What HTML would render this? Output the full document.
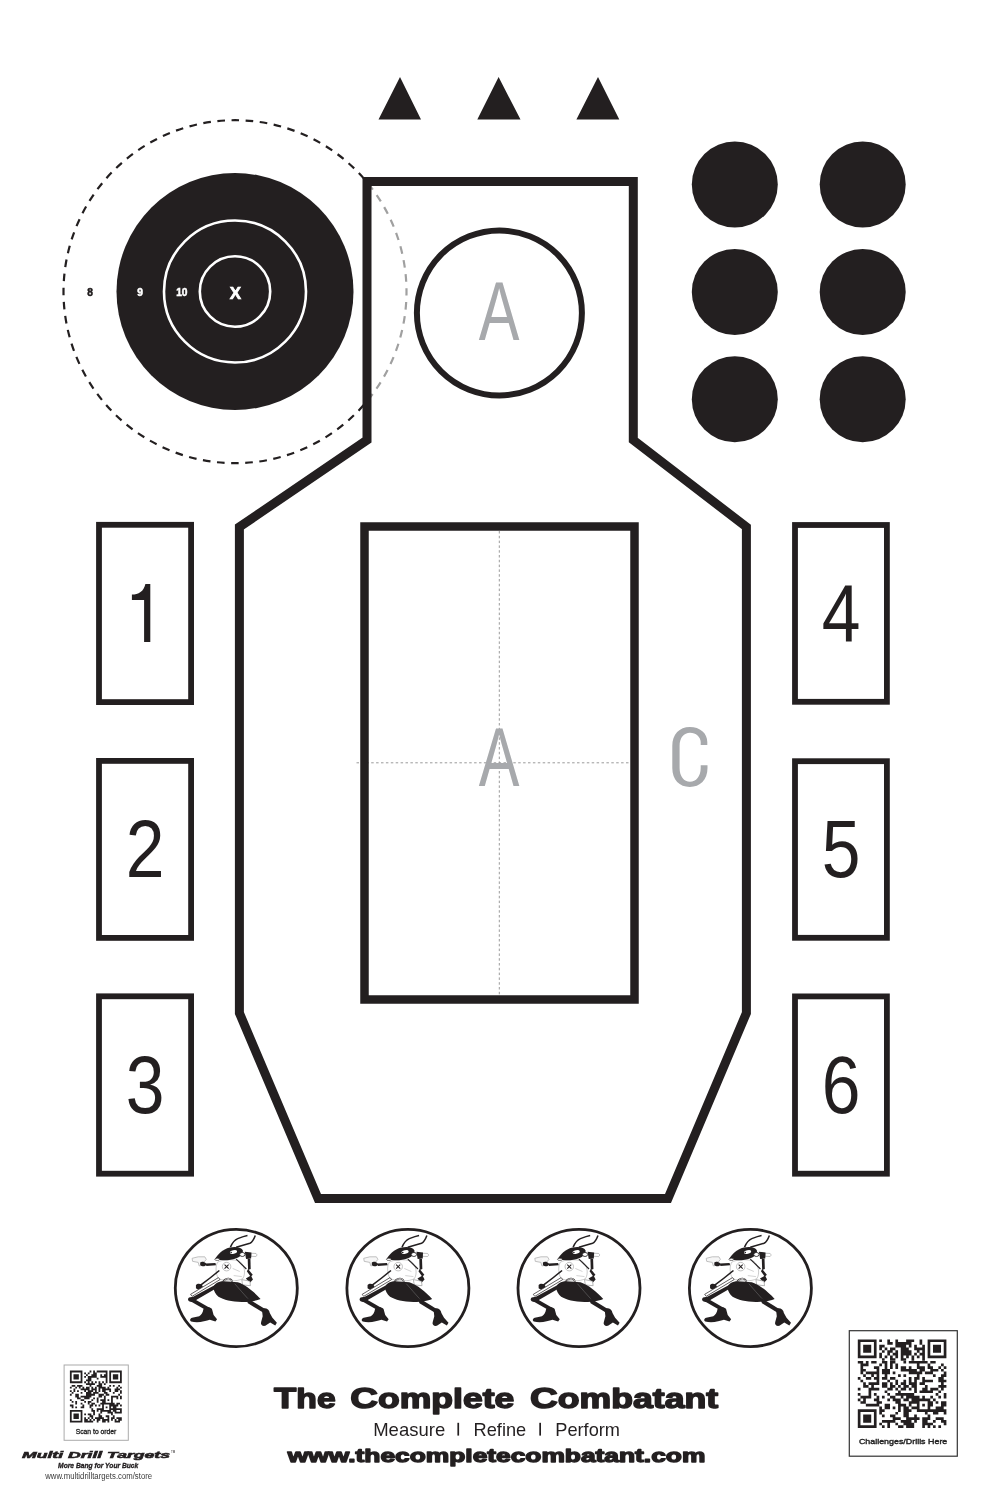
<!DOCTYPE html>
<html><head><meta charset="utf-8"><title>The Complete Combatant Target</title>
<style>
html,body{margin:0;padding:0;background:#fff;width:986px;height:1500px;overflow:hidden}
svg{display:block;font-family:"Liberation Sans",sans-serif;will-change:transform}
</style></head><body>
<svg width="986" height="1500" viewBox="0 0 986 1500">
<rect width="986" height="1500" fill="#fff"/>
<!-- triangles -->
<path d="M400 77 L421 119.6 L378.5 119.6 Z M498.6 77 L520.5 119.6 L477.3 119.6 Z M598 77 L619.3 119.6 L576.4 119.6 Z" fill="#231f20"/>
<!-- dashed circle (black outside) -->
<defs>
  <clipPath id="outside"><path d="M0 0 H986 V1500 H0 Z M367 181.5 L633.3 181.5 L633.3 440 L746.4 527 L746.4 1013 L668 1198.5 L318 1198.5 L239.4 1013 L239.4 527 L367 440 Z" clip-rule="evenodd"/></clipPath>
  <clipPath id="inside"><path d="M367 181.5 L633.3 181.5 L633.3 440 L746.4 527 L746.4 1013 L668 1198.5 L318 1198.5 L239.4 1013 L239.4 527 L367 440 Z"/></clipPath>
</defs>
<circle cx="235" cy="291.7" r="171.5" fill="none" stroke="#231f20" stroke-width="2.2" stroke-dasharray="7.6 6.578" stroke-dashoffset="3.8" clip-path="url(#outside)"/>
<circle cx="235" cy="291.7" r="171.5" fill="none" stroke="#a0a0a0" stroke-width="2.2" stroke-dasharray="7.6 6.578" stroke-dashoffset="3.8" clip-path="url(#inside)"/>
<!-- bullseye -->
<circle cx="235" cy="291.5" r="118.5" fill="#231f20"/>
<circle cx="235" cy="291.5" r="71" fill="none" stroke="#fff" stroke-width="2.6"/>
<circle cx="235" cy="291.5" r="35.2" fill="none" stroke="#fff" stroke-width="2.6"/>
<text x="235.3" y="298.6" text-anchor="middle" font-family="Liberation Sans" font-weight="bold" font-size="17" fill="#fff" stroke="#fff" stroke-width="0.7">X</text>
<text x="181.8" y="295.7" text-anchor="middle" font-family="Liberation Sans" font-weight="bold" font-size="10.2" fill="#fff" stroke="#fff" stroke-width="0.5">10</text>
<text x="140.1" y="295.7" text-anchor="middle" font-family="Liberation Sans" font-weight="bold" font-size="10.2" fill="#fff" stroke="#fff" stroke-width="0.5">9</text>
<text x="90.1" y="295.7" text-anchor="middle" font-family="Liberation Sans" font-weight="bold" font-size="10.2" fill="#231f20" stroke="#231f20" stroke-width="0.5">8</text>
<!-- body outline -->
<path d="M367 181.5 L633.3 181.5 L633.3 440 L746.4 527 L746.4 1013 L668 1198.5 L318 1198.5 L239.4 1013 L239.4 527 L367 440 Z" fill="none" stroke="#231f20" stroke-width="9" stroke-linejoin="miter" stroke-miterlimit="10"/>
<!-- head circle -->
<circle cx="499.4" cy="313" r="82.5" fill="none" stroke="#231f20" stroke-width="6"/>
<text x="0" y="0" transform="translate(499.20,339.70) scale(0.73,1)" text-anchor="middle" font-family="Liberation Sans" font-size="83.6" fill="#a7a9ac">A</text>
<!-- inner rect -->
<path d="M499.3 531 V995" stroke="#9a9a9a" stroke-width="1" stroke-dasharray="2.5 2.3"/>
<path d="M356.5 762.8 H630" stroke="#9a9a9a" stroke-width="1" stroke-dasharray="2.5 2.4"/>
<rect x="364.5" y="526.5" width="270" height="473" fill="none" stroke="#231f20" stroke-width="8.5"/>
<text x="0" y="0" transform="translate(499.20,785.60) scale(0.73,1)" text-anchor="middle" font-family="Liberation Sans" font-size="83.6" fill="#a7a9ac">A</text>
<path d="M707.3 744.9 V742 C707.3 733 700 726.9 689.8 726.9 C679.5 726.9 672.3 734 672.3 746 V768 C672.3 780 679.5 786.9 689.8 786.9 C700 786.9 707.5 780 707.5 768 V765.2 H700.7 V768 C700.7 776.5 696 781.8 690 781.8 C684 781.8 679.6 776.5 679.6 768 V746 C679.6 737.5 684 732.7 690 732.7 C696 732.7 700.7 737 700.7 742 V744.9 Z" fill="#a7a9ac"/>
<!-- dots -->
<g fill="#231f20">
<circle cx="734.8" cy="184.5" r="43"/><circle cx="862.7" cy="184.5" r="43"/>
<circle cx="734.8" cy="291.9" r="43"/><circle cx="862.7" cy="291.9" r="43"/>
<circle cx="734.8" cy="399.2" r="43"/><circle cx="862.7" cy="399.2" r="43"/>
</g>
<!-- number boxes -->
<g fill="none" stroke="#231f20" stroke-width="5.8">
<rect x="99" y="524.8" width="92.1" height="177.3"/>
<rect x="99" y="760.9" width="92.1" height="177"/>
<rect x="99" y="996.3" width="92.1" height="177.4"/>
<rect x="795" y="525" width="91.9" height="176.8"/>
<rect x="795" y="761.2" width="91.9" height="176.6"/>
<rect x="795" y="996.4" width="91.9" height="177.3"/>
</g>
<path d="M144.1 584 H150.3 V641.9 H144.1 V600 H131.9 V594.6 C138.5 594.6 143.8 591.5 145.4 584 Z" fill="#231f20"/>
<text x="0" y="0" transform="translate(145.00,877.40) scale(0.86,1)" text-anchor="middle" font-family="Liberation Sans" font-size="81" fill="#231f20">2</text>
<text x="0" y="0" transform="translate(145.00,1113.00) scale(0.86,1)" text-anchor="middle" font-family="Liberation Sans" font-size="81" fill="#231f20">3</text>
<text x="0" y="0" transform="translate(841.00,641.80) scale(0.86,1)" text-anchor="middle" font-family="Liberation Sans" font-size="81" fill="#231f20">4</text>
<text x="0" y="0" transform="translate(841.00,877.40) scale(0.86,1)" text-anchor="middle" font-family="Liberation Sans" font-size="81" fill="#231f20">5</text>
<text x="0" y="0" transform="translate(841.00,1113.00) scale(0.86,1)" text-anchor="middle" font-family="Liberation Sans" font-size="81" fill="#231f20">6</text>
<!-- ant circles -->
<g fill="#fff" stroke="#231f20" stroke-width="2.8">
<ellipse cx="236.3" cy="1288" rx="61" ry="58.6"/>
<ellipse cx="407.9" cy="1288" rx="61" ry="58.6"/>
<ellipse cx="579" cy="1288" rx="61" ry="58.6"/>
<ellipse cx="750.4" cy="1288" rx="61" ry="58.6"/>
</g>
<g transform="translate(185.00,1235) scale(0.10142)">
<g fill="#231f20" stroke="none">
  <path d="M448 120 C465 80 490 48 520 36 C560 20 590 10 616 5" fill="none" stroke="#231f20" stroke-width="15"/>
  <path d="M504 120 L640 82 C662 72 680 40 693 5" fill="none" stroke="#231f20" stroke-width="15"/>
  <path d="M320 270 C360 240 480 235 540 260 C590 300 600 380 570 430 C520 460 400 460 330 430 C300 380 300 310 320 270 Z" fill="#fff" stroke="#9a9a9a" stroke-width="5"/>
  <path d="M294 240 C320 195 370 140 441 124 C510 110 560 125 570 152 C575 185 550 212 500 232 C450 250 380 256 294 240 Z"/>
  <ellipse cx="478" cy="168" rx="36" ry="18" fill="#fff" transform="rotate(-12 478 168)"/>
  <circle cx="455" cy="173" r="8"/>
  <ellipse cx="565" cy="192" rx="26" ry="20" fill="#fff" stroke="#231f20" stroke-width="8"/>
  <path d="M650 180 L700 182 C712 190 712 205 700 212 L650 210 Z" fill="#fff" stroke="#999" stroke-width="6"/>
  <path d="M590 165 L655 172 L652 232 L602 236 Z"/>
  <path d="M618 232 L645 236 L648 335 L622 345 Z"/>
  <path d="M622 335 L668 392 L648 412 L610 358 Z"/>
  <path d="M505 238 L605 335" stroke="#231f20" stroke-width="11"/>
  <ellipse cx="318" cy="240" rx="24" ry="11" fill="#fff" stroke="#231f20" stroke-width="6"/>
  <path d="M70 230 L130 215 L195 215 L210 240 L190 265 L160 270 L165 300 L140 305 L130 270 L75 260 Z" fill="#f6f6f6" stroke="#a8a8a8" stroke-width="7"/>
  <path d="M150 270 C170 255 205 265 212 290 C202 312 165 312 150 295 Z"/>
  <path d="M205 282 L300 276 L306 298 L210 306 Z"/>
  <circle cx="410" cy="312" r="42" fill="none" stroke="#9a9a9a" stroke-width="6"/>
  <path d="M390 293 L430 332 M430 293 L390 332" stroke="#231f20" stroke-width="10"/>
  <path d="M470 330 L540 360 M480 400 L560 410" stroke="#aaa" stroke-width="5"/>
  <path d="M375 490 C365 430 455 405 465 460 C468 485 455 500 440 505" fill="none" stroke="#231f20" stroke-width="16"/><path d="M375 490 C365 430 455 405 465 460 C468 485 455 500 440 505" fill="none" stroke="#fff" stroke-width="7"/>
  <path d="M600 430 L650 400 L670 440 L640 470 Z"/>
  <path d="M560 440 L640 455 L645 500 L568 492 Z" fill="#fff" stroke="#888" stroke-width="6"/>
  <path d="M334 344 L344 356 L252 430 L156 502 L146 490 L242 418 Z"/>
  <path d="M108 492 C128 470 170 480 176 510 C166 540 130 545 108 525 Z"/>
  <path d="M55 585 L330 420 L345 440 L70 605 Z" fill="#fff" stroke="#231f20" stroke-width="7"/>
  <path d="M280 520 C285 480 330 455 380 455 L520 465 C600 490 680 560 745 630 C700 650 620 662 560 660 C460 660 380 640 330 610 C300 580 285 555 280 520 Z"/>
  <path d="M490 480 L560 560 L640 650" fill="none" stroke="#777" stroke-width="5"/>
  <path d="M300 490 L318 520 L110 642 L62 656 L35 630 L90 604 Z"/>
  <ellipse cx="70" cy="636" rx="40" ry="24"/>
  <path d="M70 618 L242 718 L226 752 L58 656 Z"/>
  <path d="M182 730 C200 705 250 705 266 730 L282 790 L316 830 L300 852 L245 836 C200 852 120 870 60 852 C44 842 50 820 70 815 L140 800 C162 790 176 765 182 730 Z"/>
  <path d="M600 618 L642 638 L802 738 L782 772 L620 672 Z"/>
  <path d="M758 730 C790 712 832 730 836 770 L862 815 L906 864 L890 892 L840 862 L792 896 C760 902 744 882 750 860 L766 800 Z"/>
</g>
</g>
<g transform="translate(356.60,1235) scale(0.10142)">
<g fill="#231f20" stroke="none">
  <path d="M448 120 C465 80 490 48 520 36 C560 20 590 10 616 5" fill="none" stroke="#231f20" stroke-width="15"/>
  <path d="M504 120 L640 82 C662 72 680 40 693 5" fill="none" stroke="#231f20" stroke-width="15"/>
  <path d="M320 270 C360 240 480 235 540 260 C590 300 600 380 570 430 C520 460 400 460 330 430 C300 380 300 310 320 270 Z" fill="#fff" stroke="#9a9a9a" stroke-width="5"/>
  <path d="M294 240 C320 195 370 140 441 124 C510 110 560 125 570 152 C575 185 550 212 500 232 C450 250 380 256 294 240 Z"/>
  <ellipse cx="478" cy="168" rx="36" ry="18" fill="#fff" transform="rotate(-12 478 168)"/>
  <circle cx="455" cy="173" r="8"/>
  <ellipse cx="565" cy="192" rx="26" ry="20" fill="#fff" stroke="#231f20" stroke-width="8"/>
  <path d="M650 180 L700 182 C712 190 712 205 700 212 L650 210 Z" fill="#fff" stroke="#999" stroke-width="6"/>
  <path d="M590 165 L655 172 L652 232 L602 236 Z"/>
  <path d="M618 232 L645 236 L648 335 L622 345 Z"/>
  <path d="M622 335 L668 392 L648 412 L610 358 Z"/>
  <path d="M505 238 L605 335" stroke="#231f20" stroke-width="11"/>
  <ellipse cx="318" cy="240" rx="24" ry="11" fill="#fff" stroke="#231f20" stroke-width="6"/>
  <path d="M70 230 L130 215 L195 215 L210 240 L190 265 L160 270 L165 300 L140 305 L130 270 L75 260 Z" fill="#f6f6f6" stroke="#a8a8a8" stroke-width="7"/>
  <path d="M150 270 C170 255 205 265 212 290 C202 312 165 312 150 295 Z"/>
  <path d="M205 282 L300 276 L306 298 L210 306 Z"/>
  <circle cx="410" cy="312" r="42" fill="none" stroke="#9a9a9a" stroke-width="6"/>
  <path d="M390 293 L430 332 M430 293 L390 332" stroke="#231f20" stroke-width="10"/>
  <path d="M470 330 L540 360 M480 400 L560 410" stroke="#aaa" stroke-width="5"/>
  <path d="M375 490 C365 430 455 405 465 460 C468 485 455 500 440 505" fill="none" stroke="#231f20" stroke-width="16"/><path d="M375 490 C365 430 455 405 465 460 C468 485 455 500 440 505" fill="none" stroke="#fff" stroke-width="7"/>
  <path d="M600 430 L650 400 L670 440 L640 470 Z"/>
  <path d="M560 440 L640 455 L645 500 L568 492 Z" fill="#fff" stroke="#888" stroke-width="6"/>
  <path d="M334 344 L344 356 L252 430 L156 502 L146 490 L242 418 Z"/>
  <path d="M108 492 C128 470 170 480 176 510 C166 540 130 545 108 525 Z"/>
  <path d="M55 585 L330 420 L345 440 L70 605 Z" fill="#fff" stroke="#231f20" stroke-width="7"/>
  <path d="M280 520 C285 480 330 455 380 455 L520 465 C600 490 680 560 745 630 C700 650 620 662 560 660 C460 660 380 640 330 610 C300 580 285 555 280 520 Z"/>
  <path d="M490 480 L560 560 L640 650" fill="none" stroke="#777" stroke-width="5"/>
  <path d="M300 490 L318 520 L110 642 L62 656 L35 630 L90 604 Z"/>
  <ellipse cx="70" cy="636" rx="40" ry="24"/>
  <path d="M70 618 L242 718 L226 752 L58 656 Z"/>
  <path d="M182 730 C200 705 250 705 266 730 L282 790 L316 830 L300 852 L245 836 C200 852 120 870 60 852 C44 842 50 820 70 815 L140 800 C162 790 176 765 182 730 Z"/>
  <path d="M600 618 L642 638 L802 738 L782 772 L620 672 Z"/>
  <path d="M758 730 C790 712 832 730 836 770 L862 815 L906 864 L890 892 L840 862 L792 896 C760 902 744 882 750 860 L766 800 Z"/>
</g>
</g>
<g transform="translate(527.70,1235) scale(0.10142)">
<g fill="#231f20" stroke="none">
  <path d="M448 120 C465 80 490 48 520 36 C560 20 590 10 616 5" fill="none" stroke="#231f20" stroke-width="15"/>
  <path d="M504 120 L640 82 C662 72 680 40 693 5" fill="none" stroke="#231f20" stroke-width="15"/>
  <path d="M320 270 C360 240 480 235 540 260 C590 300 600 380 570 430 C520 460 400 460 330 430 C300 380 300 310 320 270 Z" fill="#fff" stroke="#9a9a9a" stroke-width="5"/>
  <path d="M294 240 C320 195 370 140 441 124 C510 110 560 125 570 152 C575 185 550 212 500 232 C450 250 380 256 294 240 Z"/>
  <ellipse cx="478" cy="168" rx="36" ry="18" fill="#fff" transform="rotate(-12 478 168)"/>
  <circle cx="455" cy="173" r="8"/>
  <ellipse cx="565" cy="192" rx="26" ry="20" fill="#fff" stroke="#231f20" stroke-width="8"/>
  <path d="M650 180 L700 182 C712 190 712 205 700 212 L650 210 Z" fill="#fff" stroke="#999" stroke-width="6"/>
  <path d="M590 165 L655 172 L652 232 L602 236 Z"/>
  <path d="M618 232 L645 236 L648 335 L622 345 Z"/>
  <path d="M622 335 L668 392 L648 412 L610 358 Z"/>
  <path d="M505 238 L605 335" stroke="#231f20" stroke-width="11"/>
  <ellipse cx="318" cy="240" rx="24" ry="11" fill="#fff" stroke="#231f20" stroke-width="6"/>
  <path d="M70 230 L130 215 L195 215 L210 240 L190 265 L160 270 L165 300 L140 305 L130 270 L75 260 Z" fill="#f6f6f6" stroke="#a8a8a8" stroke-width="7"/>
  <path d="M150 270 C170 255 205 265 212 290 C202 312 165 312 150 295 Z"/>
  <path d="M205 282 L300 276 L306 298 L210 306 Z"/>
  <circle cx="410" cy="312" r="42" fill="none" stroke="#9a9a9a" stroke-width="6"/>
  <path d="M390 293 L430 332 M430 293 L390 332" stroke="#231f20" stroke-width="10"/>
  <path d="M470 330 L540 360 M480 400 L560 410" stroke="#aaa" stroke-width="5"/>
  <path d="M375 490 C365 430 455 405 465 460 C468 485 455 500 440 505" fill="none" stroke="#231f20" stroke-width="16"/><path d="M375 490 C365 430 455 405 465 460 C468 485 455 500 440 505" fill="none" stroke="#fff" stroke-width="7"/>
  <path d="M600 430 L650 400 L670 440 L640 470 Z"/>
  <path d="M560 440 L640 455 L645 500 L568 492 Z" fill="#fff" stroke="#888" stroke-width="6"/>
  <path d="M334 344 L344 356 L252 430 L156 502 L146 490 L242 418 Z"/>
  <path d="M108 492 C128 470 170 480 176 510 C166 540 130 545 108 525 Z"/>
  <path d="M55 585 L330 420 L345 440 L70 605 Z" fill="#fff" stroke="#231f20" stroke-width="7"/>
  <path d="M280 520 C285 480 330 455 380 455 L520 465 C600 490 680 560 745 630 C700 650 620 662 560 660 C460 660 380 640 330 610 C300 580 285 555 280 520 Z"/>
  <path d="M490 480 L560 560 L640 650" fill="none" stroke="#777" stroke-width="5"/>
  <path d="M300 490 L318 520 L110 642 L62 656 L35 630 L90 604 Z"/>
  <ellipse cx="70" cy="636" rx="40" ry="24"/>
  <path d="M70 618 L242 718 L226 752 L58 656 Z"/>
  <path d="M182 730 C200 705 250 705 266 730 L282 790 L316 830 L300 852 L245 836 C200 852 120 870 60 852 C44 842 50 820 70 815 L140 800 C162 790 176 765 182 730 Z"/>
  <path d="M600 618 L642 638 L802 738 L782 772 L620 672 Z"/>
  <path d="M758 730 C790 712 832 730 836 770 L862 815 L906 864 L890 892 L840 862 L792 896 C760 902 744 882 750 860 L766 800 Z"/>
</g>
</g>
<g transform="translate(699.10,1235) scale(0.10142)">
<g fill="#231f20" stroke="none">
  <path d="M448 120 C465 80 490 48 520 36 C560 20 590 10 616 5" fill="none" stroke="#231f20" stroke-width="15"/>
  <path d="M504 120 L640 82 C662 72 680 40 693 5" fill="none" stroke="#231f20" stroke-width="15"/>
  <path d="M320 270 C360 240 480 235 540 260 C590 300 600 380 570 430 C520 460 400 460 330 430 C300 380 300 310 320 270 Z" fill="#fff" stroke="#9a9a9a" stroke-width="5"/>
  <path d="M294 240 C320 195 370 140 441 124 C510 110 560 125 570 152 C575 185 550 212 500 232 C450 250 380 256 294 240 Z"/>
  <ellipse cx="478" cy="168" rx="36" ry="18" fill="#fff" transform="rotate(-12 478 168)"/>
  <circle cx="455" cy="173" r="8"/>
  <ellipse cx="565" cy="192" rx="26" ry="20" fill="#fff" stroke="#231f20" stroke-width="8"/>
  <path d="M650 180 L700 182 C712 190 712 205 700 212 L650 210 Z" fill="#fff" stroke="#999" stroke-width="6"/>
  <path d="M590 165 L655 172 L652 232 L602 236 Z"/>
  <path d="M618 232 L645 236 L648 335 L622 345 Z"/>
  <path d="M622 335 L668 392 L648 412 L610 358 Z"/>
  <path d="M505 238 L605 335" stroke="#231f20" stroke-width="11"/>
  <ellipse cx="318" cy="240" rx="24" ry="11" fill="#fff" stroke="#231f20" stroke-width="6"/>
  <path d="M70 230 L130 215 L195 215 L210 240 L190 265 L160 270 L165 300 L140 305 L130 270 L75 260 Z" fill="#f6f6f6" stroke="#a8a8a8" stroke-width="7"/>
  <path d="M150 270 C170 255 205 265 212 290 C202 312 165 312 150 295 Z"/>
  <path d="M205 282 L300 276 L306 298 L210 306 Z"/>
  <circle cx="410" cy="312" r="42" fill="none" stroke="#9a9a9a" stroke-width="6"/>
  <path d="M390 293 L430 332 M430 293 L390 332" stroke="#231f20" stroke-width="10"/>
  <path d="M470 330 L540 360 M480 400 L560 410" stroke="#aaa" stroke-width="5"/>
  <path d="M375 490 C365 430 455 405 465 460 C468 485 455 500 440 505" fill="none" stroke="#231f20" stroke-width="16"/><path d="M375 490 C365 430 455 405 465 460 C468 485 455 500 440 505" fill="none" stroke="#fff" stroke-width="7"/>
  <path d="M600 430 L650 400 L670 440 L640 470 Z"/>
  <path d="M560 440 L640 455 L645 500 L568 492 Z" fill="#fff" stroke="#888" stroke-width="6"/>
  <path d="M334 344 L344 356 L252 430 L156 502 L146 490 L242 418 Z"/>
  <path d="M108 492 C128 470 170 480 176 510 C166 540 130 545 108 525 Z"/>
  <path d="M55 585 L330 420 L345 440 L70 605 Z" fill="#fff" stroke="#231f20" stroke-width="7"/>
  <path d="M280 520 C285 480 330 455 380 455 L520 465 C600 490 680 560 745 630 C700 650 620 662 560 660 C460 660 380 640 330 610 C300 580 285 555 280 520 Z"/>
  <path d="M490 480 L560 560 L640 650" fill="none" stroke="#777" stroke-width="5"/>
  <path d="M300 490 L318 520 L110 642 L62 656 L35 630 L90 604 Z"/>
  <ellipse cx="70" cy="636" rx="40" ry="24"/>
  <path d="M70 618 L242 718 L226 752 L58 656 Z"/>
  <path d="M182 730 C200 705 250 705 266 730 L282 790 L316 830 L300 852 L245 836 C200 852 120 870 60 852 C44 842 50 820 70 815 L140 800 C162 790 176 765 182 730 Z"/>
  <path d="M600 618 L642 638 L802 738 L782 772 L620 672 Z"/>
  <path d="M758 730 C790 712 832 730 836 770 L862 815 L906 864 L890 892 L840 862 L792 896 C760 902 744 882 750 860 L766 800 Z"/>
</g>
</g>
<!-- bottom texts -->
<g font-family="Liberation Sans" font-weight="bold" font-size="27.9" fill="#231f20" stroke="#231f20" stroke-width="1.5" stroke-linejoin="round">
<text x="274.05" y="1408.45" textLength="61.7" lengthAdjust="spacingAndGlyphs"><tspan font-size="30.2">T</tspan>he</text>
<text x="350.35" y="1408.45" textLength="163.9" lengthAdjust="spacingAndGlyphs"><tspan font-size="30.2">C</tspan>omplete</text>
<text x="530.05" y="1408.45" textLength="188" lengthAdjust="spacingAndGlyphs"><tspan font-size="30.2">C</tspan>ombatant</text>
</g>
<g font-family="Liberation Sans" font-size="18.6" fill="#231f20">
<text x="373.2" y="1435.6" textLength="72" lengthAdjust="spacingAndGlyphs">Measure</text>
<text x="473.6" y="1435.6" textLength="52.6" lengthAdjust="spacingAndGlyphs">Refine</text>
<text x="555.3" y="1435.6" textLength="64.7" lengthAdjust="spacingAndGlyphs">Perform</text>
<rect x="457.4" y="1422.8" width="1.7" height="12.8"/>
<rect x="539.3" y="1422.8" width="1.7" height="12.8"/>
</g>
<text x="287.75" y="1462.1" textLength="417.6" lengthAdjust="spacingAndGlyphs" font-family="Liberation Sans" font-weight="bold" font-size="18.5" fill="#231f20" stroke="#231f20" stroke-width="1.3" stroke-linejoin="round">www.thecompletecombatant.com</text>
<!-- right QR -->
<rect x="849.3" y="1330.7" width="108" height="125.5" fill="none" stroke="#333" stroke-width="1.2"/>
<path d="M857.80 1339.40h18.79v2.68h-18.79zM879.28 1339.40h2.68v2.68h-2.68zM887.33 1339.40h2.68v2.68h-2.68zM895.39 1339.40h2.68v2.68h-2.68zM906.13 1339.40h8.05v2.68h-8.05zM919.55 1339.40h2.68v2.68h-2.68zM927.61 1339.40h18.79v2.68h-18.79zM857.80 1342.08h2.68v2.68h-2.68zM873.91 1342.08h2.68v2.68h-2.68zM887.33 1342.08h5.37v2.68h-5.37zM895.39 1342.08h16.11v2.68h-16.11zM919.55 1342.08h2.68v2.68h-2.68zM927.61 1342.08h2.68v2.68h-2.68zM943.72 1342.08h2.68v2.68h-2.68zM857.80 1344.77h2.68v2.68h-2.68zM863.17 1344.77h8.05v2.68h-8.05zM873.91 1344.77h2.68v2.68h-2.68zM879.28 1344.77h5.37v2.68h-5.37zM895.39 1344.77h10.74v2.68h-10.74zM908.81 1344.77h2.68v2.68h-2.68zM914.18 1344.77h2.68v2.68h-2.68zM922.24 1344.77h2.68v2.68h-2.68zM927.61 1344.77h2.68v2.68h-2.68zM932.98 1344.77h8.05v2.68h-8.05zM943.72 1344.77h2.68v2.68h-2.68zM857.80 1347.45h2.68v2.68h-2.68zM863.17 1347.45h8.05v2.68h-8.05zM873.91 1347.45h2.68v2.68h-2.68zM879.28 1347.45h2.68v2.68h-2.68zM884.65 1347.45h2.68v2.68h-2.68zM890.02 1347.45h5.37v2.68h-5.37zM900.76 1347.45h8.05v2.68h-8.05zM914.18 1347.45h10.74v2.68h-10.74zM927.61 1347.45h2.68v2.68h-2.68zM932.98 1347.45h8.05v2.68h-8.05zM943.72 1347.45h2.68v2.68h-2.68zM857.80 1350.14h2.68v2.68h-2.68zM863.17 1350.14h8.05v2.68h-8.05zM873.91 1350.14h2.68v2.68h-2.68zM881.96 1350.14h2.68v2.68h-2.68zM887.33 1350.14h5.37v2.68h-5.37zM895.39 1350.14h2.68v2.68h-2.68zM900.76 1350.14h10.74v2.68h-10.74zM916.87 1350.14h2.68v2.68h-2.68zM922.24 1350.14h2.68v2.68h-2.68zM927.61 1350.14h2.68v2.68h-2.68zM932.98 1350.14h8.05v2.68h-8.05zM943.72 1350.14h2.68v2.68h-2.68zM857.80 1352.82h2.68v2.68h-2.68zM873.91 1352.82h2.68v2.68h-2.68zM879.28 1352.82h2.68v2.68h-2.68zM887.33 1352.82h2.68v2.68h-2.68zM892.70 1352.82h5.37v2.68h-5.37zM900.76 1352.82h10.74v2.68h-10.74zM914.18 1352.82h2.68v2.68h-2.68zM919.55 1352.82h5.37v2.68h-5.37zM927.61 1352.82h2.68v2.68h-2.68zM943.72 1352.82h2.68v2.68h-2.68zM857.80 1355.51h18.79v2.68h-18.79zM879.28 1355.51h2.68v2.68h-2.68zM884.65 1355.51h2.68v2.68h-2.68zM890.02 1355.51h2.68v2.68h-2.68zM895.39 1355.51h2.68v2.68h-2.68zM900.76 1355.51h2.68v2.68h-2.68zM906.13 1355.51h2.68v2.68h-2.68zM911.50 1355.51h2.68v2.68h-2.68zM916.87 1355.51h2.68v2.68h-2.68zM922.24 1355.51h2.68v2.68h-2.68zM927.61 1355.51h18.79v2.68h-18.79zM881.96 1358.19h2.68v2.68h-2.68zM890.02 1358.19h5.37v2.68h-5.37zM900.76 1358.19h5.37v2.68h-5.37zM911.50 1358.19h2.68v2.68h-2.68zM922.24 1358.19h2.68v2.68h-2.68zM857.80 1360.88h5.37v2.68h-5.37zM865.85 1360.88h2.68v2.68h-2.68zM871.22 1360.88h5.37v2.68h-5.37zM881.96 1360.88h5.37v2.68h-5.37zM890.02 1360.88h5.37v2.68h-5.37zM903.44 1360.88h2.68v2.68h-2.68zM908.81 1360.88h18.79v2.68h-18.79zM930.29 1360.88h5.37v2.68h-5.37zM860.48 1363.56h8.05v2.68h-8.05zM879.28 1363.56h2.68v2.68h-2.68zM884.65 1363.56h2.68v2.68h-2.68zM890.02 1363.56h2.68v2.68h-2.68zM895.39 1363.56h2.68v2.68h-2.68zM916.87 1363.56h2.68v2.68h-2.68zM927.61 1363.56h2.68v2.68h-2.68zM941.03 1363.56h2.68v2.68h-2.68zM860.48 1366.25h2.68v2.68h-2.68zM873.91 1366.25h5.37v2.68h-5.37zM884.65 1366.25h2.68v2.68h-2.68zM890.02 1366.25h2.68v2.68h-2.68zM895.39 1366.25h2.68v2.68h-2.68zM900.76 1366.25h5.37v2.68h-5.37zM908.81 1366.25h2.68v2.68h-2.68zM916.87 1366.25h8.05v2.68h-8.05zM927.61 1366.25h5.37v2.68h-5.37zM938.35 1366.25h2.68v2.68h-2.68zM943.72 1366.25h2.68v2.68h-2.68zM860.48 1368.93h5.37v2.68h-5.37zM876.59 1368.93h2.68v2.68h-2.68zM881.96 1368.93h8.05v2.68h-8.05zM900.76 1368.93h16.11v2.68h-16.11zM919.55 1368.93h5.37v2.68h-5.37zM930.29 1368.93h8.05v2.68h-8.05zM941.03 1368.93h2.68v2.68h-2.68zM860.48 1371.62h2.68v2.68h-2.68zM865.85 1371.62h13.42v2.68h-13.42zM881.96 1371.62h8.05v2.68h-8.05zM892.70 1371.62h2.68v2.68h-2.68zM908.81 1371.62h13.42v2.68h-13.42zM924.92 1371.62h8.05v2.68h-8.05zM943.72 1371.62h2.68v2.68h-2.68zM863.17 1374.30h2.68v2.68h-2.68zM871.22 1374.30h2.68v2.68h-2.68zM876.59 1374.30h2.68v2.68h-2.68zM884.65 1374.30h2.68v2.68h-2.68zM898.07 1374.30h2.68v2.68h-2.68zM903.44 1374.30h2.68v2.68h-2.68zM916.87 1374.30h2.68v2.68h-2.68zM932.98 1374.30h2.68v2.68h-2.68zM941.03 1374.30h5.37v2.68h-5.37zM857.80 1376.99h2.68v2.68h-2.68zM865.85 1376.99h5.37v2.68h-5.37zM873.91 1376.99h5.37v2.68h-5.37zM881.96 1376.99h5.37v2.68h-5.37zM890.02 1376.99h5.37v2.68h-5.37zM908.81 1376.99h2.68v2.68h-2.68zM914.18 1376.99h5.37v2.68h-5.37zM922.24 1376.99h2.68v2.68h-2.68zM938.35 1376.99h5.37v2.68h-5.37zM860.48 1379.67h2.68v2.68h-2.68zM876.59 1379.67h2.68v2.68h-2.68zM887.33 1379.67h2.68v2.68h-2.68zM895.39 1379.67h2.68v2.68h-2.68zM903.44 1379.67h2.68v2.68h-2.68zM908.81 1379.67h2.68v2.68h-2.68zM914.18 1379.67h2.68v2.68h-2.68zM922.24 1379.67h10.74v2.68h-10.74zM938.35 1379.67h8.05v2.68h-8.05zM863.17 1382.36h2.68v2.68h-2.68zM868.54 1382.36h10.74v2.68h-10.74zM881.96 1382.36h5.37v2.68h-5.37zM890.02 1382.36h2.68v2.68h-2.68zM895.39 1382.36h2.68v2.68h-2.68zM900.76 1382.36h5.37v2.68h-5.37zM908.81 1382.36h8.05v2.68h-8.05zM919.55 1382.36h5.37v2.68h-5.37zM941.03 1382.36h2.68v2.68h-2.68zM863.17 1385.04h5.37v2.68h-5.37zM871.22 1385.04h2.68v2.68h-2.68zM881.96 1385.04h5.37v2.68h-5.37zM890.02 1385.04h5.37v2.68h-5.37zM898.07 1385.04h2.68v2.68h-2.68zM903.44 1385.04h5.37v2.68h-5.37zM911.50 1385.04h5.37v2.68h-5.37zM924.92 1385.04h2.68v2.68h-2.68zM938.35 1385.04h8.05v2.68h-8.05zM857.80 1387.73h2.68v2.68h-2.68zM868.54 1387.73h10.74v2.68h-10.74zM887.33 1387.73h5.37v2.68h-5.37zM895.39 1387.73h2.68v2.68h-2.68zM900.76 1387.73h5.37v2.68h-5.37zM908.81 1387.73h2.68v2.68h-2.68zM914.18 1387.73h2.68v2.68h-2.68zM922.24 1387.73h5.37v2.68h-5.37zM930.29 1387.73h8.05v2.68h-8.05zM941.03 1387.73h2.68v2.68h-2.68zM868.54 1390.41h2.68v2.68h-2.68zM884.65 1390.41h2.68v2.68h-2.68zM898.07 1390.41h2.68v2.68h-2.68zM914.18 1390.41h2.68v2.68h-2.68zM919.55 1390.41h13.42v2.68h-13.42zM938.35 1390.41h2.68v2.68h-2.68zM857.80 1393.10h2.68v2.68h-2.68zM868.54 1393.10h2.68v2.68h-2.68zM873.91 1393.10h2.68v2.68h-2.68zM887.33 1393.10h2.68v2.68h-2.68zM895.39 1393.10h18.79v2.68h-18.79zM935.66 1393.10h2.68v2.68h-2.68zM943.72 1393.10h2.68v2.68h-2.68zM860.48 1395.78h10.74v2.68h-10.74zM876.59 1395.78h2.68v2.68h-2.68zM881.96 1395.78h2.68v2.68h-2.68zM890.02 1395.78h5.37v2.68h-5.37zM900.76 1395.78h2.68v2.68h-2.68zM906.13 1395.78h13.42v2.68h-13.42zM922.24 1395.78h2.68v2.68h-2.68zM930.29 1395.78h2.68v2.68h-2.68zM938.35 1395.78h2.68v2.68h-2.68zM943.72 1395.78h2.68v2.68h-2.68zM857.80 1398.47h2.68v2.68h-2.68zM863.17 1398.47h2.68v2.68h-2.68zM873.91 1398.47h5.37v2.68h-5.37zM887.33 1398.47h2.68v2.68h-2.68zM892.70 1398.47h8.05v2.68h-8.05zM903.44 1398.47h5.37v2.68h-5.37zM911.50 1398.47h18.79v2.68h-18.79zM932.98 1398.47h2.68v2.68h-2.68zM860.48 1401.15h5.37v2.68h-5.37zM876.59 1401.15h5.37v2.68h-5.37zM895.39 1401.15h5.37v2.68h-5.37zM908.81 1401.15h10.74v2.68h-10.74zM927.61 1401.15h5.37v2.68h-5.37zM935.66 1401.15h2.68v2.68h-2.68zM941.03 1401.15h5.37v2.68h-5.37zM865.85 1403.84h13.42v2.68h-13.42zM884.65 1403.84h5.37v2.68h-5.37zM898.07 1403.84h8.05v2.68h-8.05zM908.81 1403.84h2.68v2.68h-2.68zM916.87 1403.84h2.68v2.68h-2.68zM922.24 1403.84h2.68v2.68h-2.68zM927.61 1403.84h5.37v2.68h-5.37zM941.03 1403.84h5.37v2.68h-5.37zM879.28 1406.52h2.68v2.68h-2.68zM884.65 1406.52h5.37v2.68h-5.37zM892.70 1406.52h2.68v2.68h-2.68zM898.07 1406.52h2.68v2.68h-2.68zM903.44 1406.52h5.37v2.68h-5.37zM911.50 1406.52h8.05v2.68h-8.05zM927.61 1406.52h2.68v2.68h-2.68zM935.66 1406.52h8.05v2.68h-8.05zM857.80 1409.21h18.79v2.68h-18.79zM879.28 1409.21h5.37v2.68h-5.37zM898.07 1409.21h2.68v2.68h-2.68zM903.44 1409.21h8.05v2.68h-8.05zM916.87 1409.21h29.53v2.68h-29.53zM857.80 1411.89h2.68v2.68h-2.68zM873.91 1411.89h2.68v2.68h-2.68zM879.28 1411.89h2.68v2.68h-2.68zM895.39 1411.89h2.68v2.68h-2.68zM903.44 1411.89h5.37v2.68h-5.37zM924.92 1411.89h2.68v2.68h-2.68zM932.98 1411.89h5.37v2.68h-5.37zM943.72 1411.89h2.68v2.68h-2.68zM857.80 1414.58h2.68v2.68h-2.68zM863.17 1414.58h8.05v2.68h-8.05zM873.91 1414.58h2.68v2.68h-2.68zM881.96 1414.58h2.68v2.68h-2.68zM890.02 1414.58h5.37v2.68h-5.37zM903.44 1414.58h5.37v2.68h-5.37zM914.18 1414.58h2.68v2.68h-2.68zM927.61 1414.58h2.68v2.68h-2.68zM857.80 1417.26h2.68v2.68h-2.68zM863.17 1417.26h8.05v2.68h-8.05zM873.91 1417.26h2.68v2.68h-2.68zM892.70 1417.26h8.05v2.68h-8.05zM906.13 1417.26h13.42v2.68h-13.42zM922.24 1417.26h8.05v2.68h-8.05zM935.66 1417.26h8.05v2.68h-8.05zM857.80 1419.95h2.68v2.68h-2.68zM863.17 1419.95h8.05v2.68h-8.05zM873.91 1419.95h2.68v2.68h-2.68zM881.96 1419.95h13.42v2.68h-13.42zM900.76 1419.95h10.74v2.68h-10.74zM914.18 1419.95h2.68v2.68h-2.68zM922.24 1419.95h5.37v2.68h-5.37zM932.98 1419.95h2.68v2.68h-2.68zM941.03 1419.95h5.37v2.68h-5.37zM857.80 1422.63h2.68v2.68h-2.68zM873.91 1422.63h2.68v2.68h-2.68zM879.28 1422.63h2.68v2.68h-2.68zM887.33 1422.63h2.68v2.68h-2.68zM895.39 1422.63h2.68v2.68h-2.68zM903.44 1422.63h10.74v2.68h-10.74zM922.24 1422.63h10.74v2.68h-10.74zM943.72 1422.63h2.68v2.68h-2.68zM857.80 1425.32h18.79v2.68h-18.79zM881.96 1425.32h2.68v2.68h-2.68zM887.33 1425.32h2.68v2.68h-2.68zM898.07 1425.32h5.37v2.68h-5.37zM906.13 1425.32h8.05v2.68h-8.05zM922.24 1425.32h2.68v2.68h-2.68zM927.61 1425.32h2.68v2.68h-2.68zM932.98 1425.32h2.68v2.68h-2.68zM938.35 1425.32h2.68v2.68h-2.68z" fill="#231f20"/>
<text x="858.9" y="1443.8" textLength="88.4" lengthAdjust="spacingAndGlyphs" font-family="Liberation Sans" font-size="8.1" fill="#222" stroke="#222" stroke-width="0.4">Challenges/Drills Here</text>
<!-- left QR -->
<rect x="64.1" y="1365" width="64.2" height="75.3" fill="none" stroke="#aaa" stroke-width="1"/>
<path d="M69.90 1370.60h12.53v1.79h-12.53zM89.59 1370.60h1.79v1.79h-1.79zM93.17 1370.60h1.79v1.79h-1.79zM96.74 1370.60h10.74v1.79h-10.74zM109.27 1370.60h12.53v1.79h-12.53zM69.90 1372.39h1.79v1.79h-1.79zM80.64 1372.39h1.79v1.79h-1.79zM84.22 1372.39h1.79v1.79h-1.79zM87.80 1372.39h1.79v1.79h-1.79zM93.17 1372.39h3.58v1.79h-3.58zM105.69 1372.39h1.79v1.79h-1.79zM109.27 1372.39h1.79v1.79h-1.79zM120.01 1372.39h1.79v1.79h-1.79zM69.90 1374.18h1.79v1.79h-1.79zM73.48 1374.18h5.37v1.79h-5.37zM80.64 1374.18h1.79v1.79h-1.79zM86.01 1374.18h1.79v1.79h-1.79zM91.38 1374.18h5.37v1.79h-5.37zM100.32 1374.18h1.79v1.79h-1.79zM103.90 1374.18h3.58v1.79h-3.58zM109.27 1374.18h1.79v1.79h-1.79zM112.85 1374.18h5.37v1.79h-5.37zM120.01 1374.18h1.79v1.79h-1.79zM69.90 1375.97h1.79v1.79h-1.79zM73.48 1375.97h5.37v1.79h-5.37zM80.64 1375.97h1.79v1.79h-1.79zM84.22 1375.97h1.79v1.79h-1.79zM87.80 1375.97h8.95v1.79h-8.95zM100.32 1375.97h7.16v1.79h-7.16zM109.27 1375.97h1.79v1.79h-1.79zM112.85 1375.97h5.37v1.79h-5.37zM120.01 1375.97h1.79v1.79h-1.79zM69.90 1377.76h1.79v1.79h-1.79zM73.48 1377.76h5.37v1.79h-5.37zM80.64 1377.76h1.79v1.79h-1.79zM87.80 1377.76h3.58v1.79h-3.58zM96.74 1377.76h1.79v1.79h-1.79zM105.69 1377.76h1.79v1.79h-1.79zM109.27 1377.76h1.79v1.79h-1.79zM112.85 1377.76h5.37v1.79h-5.37zM120.01 1377.76h1.79v1.79h-1.79zM69.90 1379.55h1.79v1.79h-1.79zM80.64 1379.55h1.79v1.79h-1.79zM86.01 1379.55h5.37v1.79h-5.37zM105.69 1379.55h1.79v1.79h-1.79zM109.27 1379.55h1.79v1.79h-1.79zM120.01 1379.55h1.79v1.79h-1.79zM69.90 1381.34h12.53v1.79h-12.53zM84.22 1381.34h1.79v1.79h-1.79zM87.80 1381.34h1.79v1.79h-1.79zM91.38 1381.34h1.79v1.79h-1.79zM94.96 1381.34h1.79v1.79h-1.79zM98.53 1381.34h1.79v1.79h-1.79zM102.11 1381.34h1.79v1.79h-1.79zM105.69 1381.34h1.79v1.79h-1.79zM109.27 1381.34h12.53v1.79h-12.53zM86.01 1383.13h8.95v1.79h-8.95zM98.53 1383.13h3.58v1.79h-3.58zM103.90 1383.13h1.79v1.79h-1.79zM71.69 1384.92h3.58v1.79h-3.58zM77.06 1384.92h5.37v1.79h-5.37zM89.59 1384.92h1.79v1.79h-1.79zM96.74 1384.92h5.37v1.79h-5.37zM109.27 1384.92h1.79v1.79h-1.79zM112.85 1384.92h1.79v1.79h-1.79zM118.22 1384.92h1.79v1.79h-1.79zM69.90 1386.71h1.79v1.79h-1.79zM75.27 1386.71h1.79v1.79h-1.79zM78.85 1386.71h1.79v1.79h-1.79zM82.43 1386.71h1.79v1.79h-1.79zM86.01 1386.71h3.58v1.79h-3.58zM91.38 1386.71h1.79v1.79h-1.79zM94.96 1386.71h1.79v1.79h-1.79zM98.53 1386.71h7.16v1.79h-7.16zM107.48 1386.71h1.79v1.79h-1.79zM116.43 1386.71h1.79v1.79h-1.79zM120.01 1386.71h1.79v1.79h-1.79zM73.48 1388.50h1.79v1.79h-1.79zM80.64 1388.50h8.95v1.79h-8.95zM91.38 1388.50h5.37v1.79h-5.37zM98.53 1388.50h1.79v1.79h-1.79zM102.11 1388.50h8.95v1.79h-8.95zM114.64 1388.50h5.37v1.79h-5.37zM69.90 1390.29h1.79v1.79h-1.79zM73.48 1390.29h1.79v1.79h-1.79zM77.06 1390.29h1.79v1.79h-1.79zM84.22 1390.29h1.79v1.79h-1.79zM87.80 1390.29h5.37v1.79h-5.37zM94.96 1390.29h1.79v1.79h-1.79zM98.53 1390.29h1.79v1.79h-1.79zM102.11 1390.29h3.58v1.79h-3.58zM109.27 1390.29h1.79v1.79h-1.79zM114.64 1390.29h3.58v1.79h-3.58zM120.01 1390.29h1.79v1.79h-1.79zM71.69 1392.08h1.79v1.79h-1.79zM80.64 1392.08h1.79v1.79h-1.79zM86.01 1392.08h5.37v1.79h-5.37zM93.17 1392.08h5.37v1.79h-5.37zM103.90 1392.08h3.58v1.79h-3.58zM112.85 1392.08h1.79v1.79h-1.79zM120.01 1392.08h1.79v1.79h-1.79zM69.90 1393.87h1.79v1.79h-1.79zM75.27 1393.87h3.58v1.79h-3.58zM86.01 1393.87h8.95v1.79h-8.95zM98.53 1393.87h5.37v1.79h-5.37zM105.69 1393.87h3.58v1.79h-3.58zM118.22 1393.87h1.79v1.79h-1.79zM75.27 1395.66h3.58v1.79h-3.58zM80.64 1395.66h10.74v1.79h-10.74zM98.53 1395.66h3.58v1.79h-3.58zM103.90 1395.66h1.79v1.79h-1.79zM111.06 1395.66h7.16v1.79h-7.16zM120.01 1395.66h1.79v1.79h-1.79zM77.06 1397.44h3.58v1.79h-3.58zM84.22 1397.44h5.37v1.79h-5.37zM93.17 1397.44h1.79v1.79h-1.79zM96.74 1397.44h1.79v1.79h-1.79zM103.90 1397.44h1.79v1.79h-1.79zM111.06 1397.44h1.79v1.79h-1.79zM116.43 1397.44h1.79v1.79h-1.79zM120.01 1397.44h1.79v1.79h-1.79zM69.90 1399.23h1.79v1.79h-1.79zM80.64 1399.23h3.58v1.79h-3.58zM91.38 1399.23h1.79v1.79h-1.79zM96.74 1399.23h1.79v1.79h-1.79zM100.32 1399.23h5.37v1.79h-5.37zM107.48 1399.23h1.79v1.79h-1.79zM111.06 1399.23h1.79v1.79h-1.79zM71.69 1401.02h1.79v1.79h-1.79zM75.27 1401.02h1.79v1.79h-1.79zM84.22 1401.02h1.79v1.79h-1.79zM87.80 1401.02h3.58v1.79h-3.58zM96.74 1401.02h1.79v1.79h-1.79zM102.11 1401.02h3.58v1.79h-3.58zM111.06 1401.02h1.79v1.79h-1.79zM75.27 1402.81h1.79v1.79h-1.79zM80.64 1402.81h1.79v1.79h-1.79zM87.80 1402.81h1.79v1.79h-1.79zM91.38 1402.81h3.58v1.79h-3.58zM100.32 1402.81h14.32v1.79h-14.32zM116.43 1402.81h3.58v1.79h-3.58zM69.90 1404.60h3.58v1.79h-3.58zM82.43 1404.60h1.79v1.79h-1.79zM89.59 1404.60h3.58v1.79h-3.58zM94.96 1404.60h1.79v1.79h-1.79zM98.53 1404.60h1.79v1.79h-1.79zM102.11 1404.60h1.79v1.79h-1.79zM109.27 1404.60h8.95v1.79h-8.95zM120.01 1404.60h1.79v1.79h-1.79zM71.69 1406.39h1.79v1.79h-1.79zM75.27 1406.39h1.79v1.79h-1.79zM80.64 1406.39h3.58v1.79h-3.58zM89.59 1406.39h1.79v1.79h-1.79zM102.11 1406.39h1.79v1.79h-1.79zM105.69 1406.39h1.79v1.79h-1.79zM109.27 1406.39h1.79v1.79h-1.79zM112.85 1406.39h3.58v1.79h-3.58zM91.38 1408.18h1.79v1.79h-1.79zM96.74 1408.18h7.16v1.79h-7.16zM109.27 1408.18h12.53v1.79h-12.53zM69.90 1409.97h12.53v1.79h-12.53zM91.38 1409.97h3.58v1.79h-3.58zM96.74 1409.97h1.79v1.79h-1.79zM100.32 1409.97h10.74v1.79h-10.74zM112.85 1409.97h3.58v1.79h-3.58zM120.01 1409.97h1.79v1.79h-1.79zM69.90 1411.76h1.79v1.79h-1.79zM80.64 1411.76h1.79v1.79h-1.79zM93.17 1411.76h1.79v1.79h-1.79zM100.32 1411.76h1.79v1.79h-1.79zM107.48 1411.76h5.37v1.79h-5.37zM114.64 1411.76h7.16v1.79h-7.16zM69.90 1413.55h1.79v1.79h-1.79zM73.48 1413.55h5.37v1.79h-5.37zM80.64 1413.55h1.79v1.79h-1.79zM84.22 1413.55h1.79v1.79h-1.79zM87.80 1413.55h3.58v1.79h-3.58zM93.17 1413.55h1.79v1.79h-1.79zM98.53 1413.55h1.79v1.79h-1.79zM111.06 1413.55h1.79v1.79h-1.79zM69.90 1415.34h1.79v1.79h-1.79zM73.48 1415.34h5.37v1.79h-5.37zM80.64 1415.34h1.79v1.79h-1.79zM89.59 1415.34h3.58v1.79h-3.58zM98.53 1415.34h3.58v1.79h-3.58zM105.69 1415.34h3.58v1.79h-3.58zM112.85 1415.34h1.79v1.79h-1.79zM69.90 1417.13h1.79v1.79h-1.79zM73.48 1417.13h5.37v1.79h-5.37zM80.64 1417.13h1.79v1.79h-1.79zM84.22 1417.13h1.79v1.79h-1.79zM87.80 1417.13h1.79v1.79h-1.79zM91.38 1417.13h1.79v1.79h-1.79zM94.96 1417.13h8.95v1.79h-8.95zM107.48 1417.13h1.79v1.79h-1.79zM111.06 1417.13h3.58v1.79h-3.58zM116.43 1417.13h5.37v1.79h-5.37zM69.90 1418.92h1.79v1.79h-1.79zM80.64 1418.92h1.79v1.79h-1.79zM84.22 1418.92h3.58v1.79h-3.58zM89.59 1418.92h1.79v1.79h-1.79zM93.17 1418.92h1.79v1.79h-1.79zM96.74 1418.92h3.58v1.79h-3.58zM102.11 1418.92h7.16v1.79h-7.16zM111.06 1418.92h1.79v1.79h-1.79zM114.64 1418.92h1.79v1.79h-1.79zM118.22 1418.92h3.58v1.79h-3.58zM69.90 1420.71h12.53v1.79h-12.53zM84.22 1420.71h8.95v1.79h-8.95zM96.74 1420.71h1.79v1.79h-1.79zM102.11 1420.71h3.58v1.79h-3.58zM107.48 1420.71h1.79v1.79h-1.79zM114.64 1420.71h5.37v1.79h-5.37z" fill="#231f20"/>
<text x="75.7" y="1433.8" textLength="40.7" lengthAdjust="spacingAndGlyphs" font-family="Liberation Sans" font-size="6.7" fill="#222" stroke="#222" stroke-width="0.3">Scan to order</text>
<text x="22" y="1458.1" textLength="148" lengthAdjust="spacingAndGlyphs" font-family="Liberation Sans" font-weight="bold" font-style="italic" font-size="9.2" fill="#231f20" stroke="#231f20" stroke-width="0.55">Multi Drill Targets</text>
<text x="171" y="1453" font-family="Liberation Sans" font-size="3" fill="#231f20">TM</text>
<text x="58.1" y="1468.4" textLength="80.2" lengthAdjust="spacingAndGlyphs" font-family="Liberation Sans" font-weight="bold" font-style="italic" font-size="7.4" fill="#231f20" stroke="#231f20" stroke-width="0.35">More Bang for Your Buck</text>
<text x="45.2" y="1478.8" textLength="106.9" lengthAdjust="spacingAndGlyphs" font-family="Liberation Sans" font-size="8.3" fill="#3a3a3a">www.multidrilltargets.com/store</text>
</svg>
</body></html>
